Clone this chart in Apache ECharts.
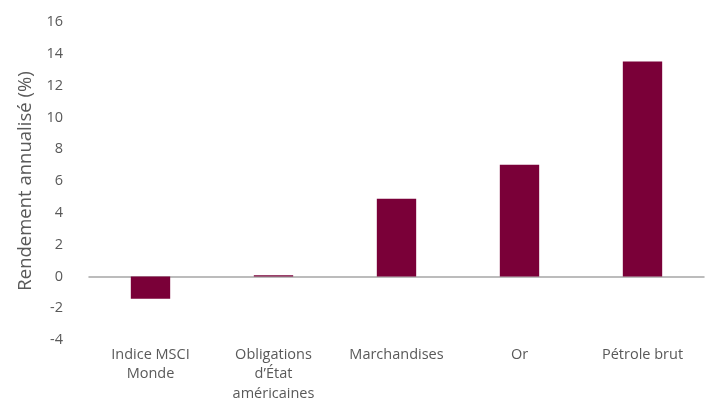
<!DOCTYPE html>
<html><head><meta charset="utf-8">
<script src="https://cdn.jsdelivr.net/npm/echarts@6/dist/echarts.min.js"></script>
<style>html,body{margin:0;padding:0;background:#fff}#c{width:710px;height:400px}</style>
</head><body><div id="c"></div>
<script>
const categories = ["Indice MSCI\nMonde", "Obligations\nd’État\naméricaines", "Marchandises", "Or", "Pétrole brut"];
const values = [-1.4, 0.07, 4.88, 7.02, 13.52];
const yTitle = "Rendement annualisé (%)";
const chart = echarts.init(document.getElementById('c'));
const font = "'Open Sans', sans-serif";
chart.setOption({
  animation: false,
  grid: {left: 89, right: 6, top: 22, bottom: 60, containLabel: false, outerBoundsMode: 'none'},
  xAxis: {
    type: 'category', data: categories,
    axisLine: {onZero: true, lineStyle: {color: '#a6a6a6', width: 1.5}},
    axisTick: {show: false},
    axisLabel: {color: '#595959', fontFamily: font, fontSize: 14.5, lineHeight: 19.5, margin: 5, interval: 0}
  },
  yAxis: {
    type: 'value', min: -4, max: 16, interval: 2,
    name: yTitle, nameLocation: 'middle', nameGap: 53,
    nameTextStyle: {color: '#595959', fontFamily: font, fontSize: 18.5},
    axisLine: {show: false}, axisTick: {show: false}, splitLine: {show: false},
    axisLabel: {color: '#595959', fontFamily: font, fontSize: 14.5, margin: 26}
  },
  series: [{type: 'bar', data: values, barWidth: '32%', itemStyle: {color: '#7a0038'}}]
});
</script></body></html>
